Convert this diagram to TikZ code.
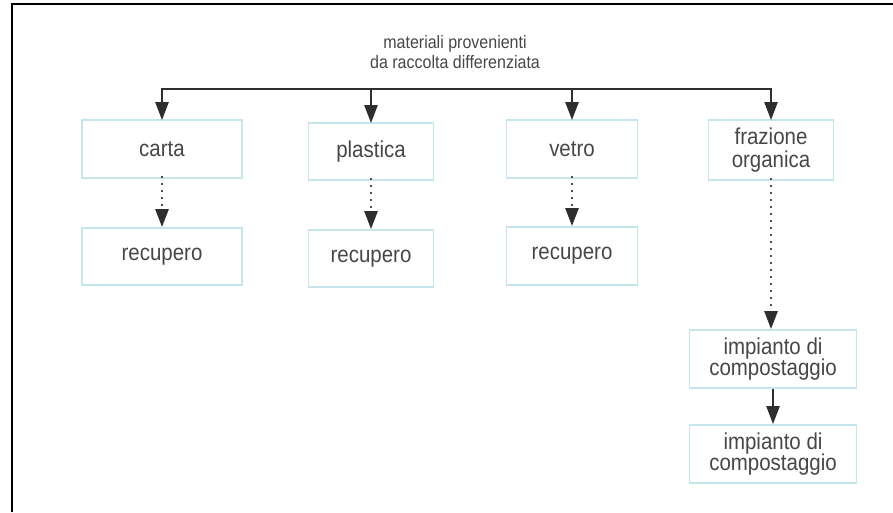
\documentclass[tikz,border=0pt]{standalone}
\usepackage{fontspec}
\setmainfont{Liberation Sans}[FakeStretch=0.89]
\usetikzlibrary{arrows.meta}
\definecolor{boxline}{HTML}{C4E6EC}
\definecolor{inktext}{HTML}{474747}
\definecolor{inkline}{HTML}{2E2E2E}
\tikzset{
  x=1pt, y=-1pt,
  stage/.style={draw=boxline, line width=1.8pt, fill=white, rectangle,
    text=inktext, font=\fontsize{23}{24}\selectfont, align=center,
    inner sep=0pt},
  feed/.style={draw=inkline, line width=2.6pt},
  drop/.style={draw=inkline, line width=2.4pt,
    -{Triangle[length=18pt,width=13pt]}},
  follow/.style={draw=inkline!85, line width=2.6pt, dash pattern=on 2pt off 5pt,
    -{Triangle[length=18pt,width=13pt,color=inkline,fill=inkline]}},
}
\begin{document}
\begin{tikzpicture}
\useasboundingbox (0,0) rectangle (893,512);
% frame: top and left edges only
\draw[black, line width=2.4pt] (12,512) -- (12,4) -- (893,4);

% heading
\node[text=inktext, font=\fontsize{18}{20}\selectfont, align=center] (head) at (455,52)
  {materiali provenienti\\da raccolta differenziata};

% first row
\node[stage, minimum width=160, minimum height=58] (carta) at (162,149) {carta};
\node[stage, minimum width=125, minimum height=57] (plastica) at (371,151.5) {plastica};
\node[stage, minimum width=131, minimum height=58] (vetro) at (572,149) {vetro};
\node[stage, minimum width=125, minimum height=60] (fraz) at (771,150)
  {frazione\\[-1pt]organica};

% second row
\node[stage, minimum width=160, minimum height=57] (rec1) at (162,256.5) {recupero};
\node[stage, minimum width=125, minimum height=57] (rec2) at (371,258.5) {recupero};
\node[stage, minimum width=131, minimum height=58] (rec3) at (572,256) {recupero};

% composting chain
\node[stage, minimum width=167, minimum height=58] (imp1) at (773,359)
  {impianto di\\[-3pt]compostaggio};
\node[stage, minimum width=167, minimum height=58] (imp2) at (773,454)
  {impianto di\\[-3pt]compostaggio};

% distribution bar
\coordinate (bar) at (0,89);
\draw[feed] ([xshift=-1.3pt]carta.north |- bar) -- ([xshift=1.3pt]fraz.north |- bar);
\foreach \n in {carta,plastica,vetro,fraz}
  \draw[drop] (\n.north |- bar) -- ([yshift=-1pt]\n.north);

% dotted links
\draw[follow] ([yshift=3pt]carta.south) -- (rec1.north);
\draw[follow] ([yshift=3pt]plastica.south) -- (rec2.north);
\draw[follow] ([yshift=3pt]vetro.south) -- (rec3.north);
\draw[follow] ([yshift=3pt]fraz.south) -- (fraz.south |- imp1.north);

% solid link between plants
\draw[drop] (imp1.south) -- (imp2.north);
\end{tikzpicture}
\end{document}
